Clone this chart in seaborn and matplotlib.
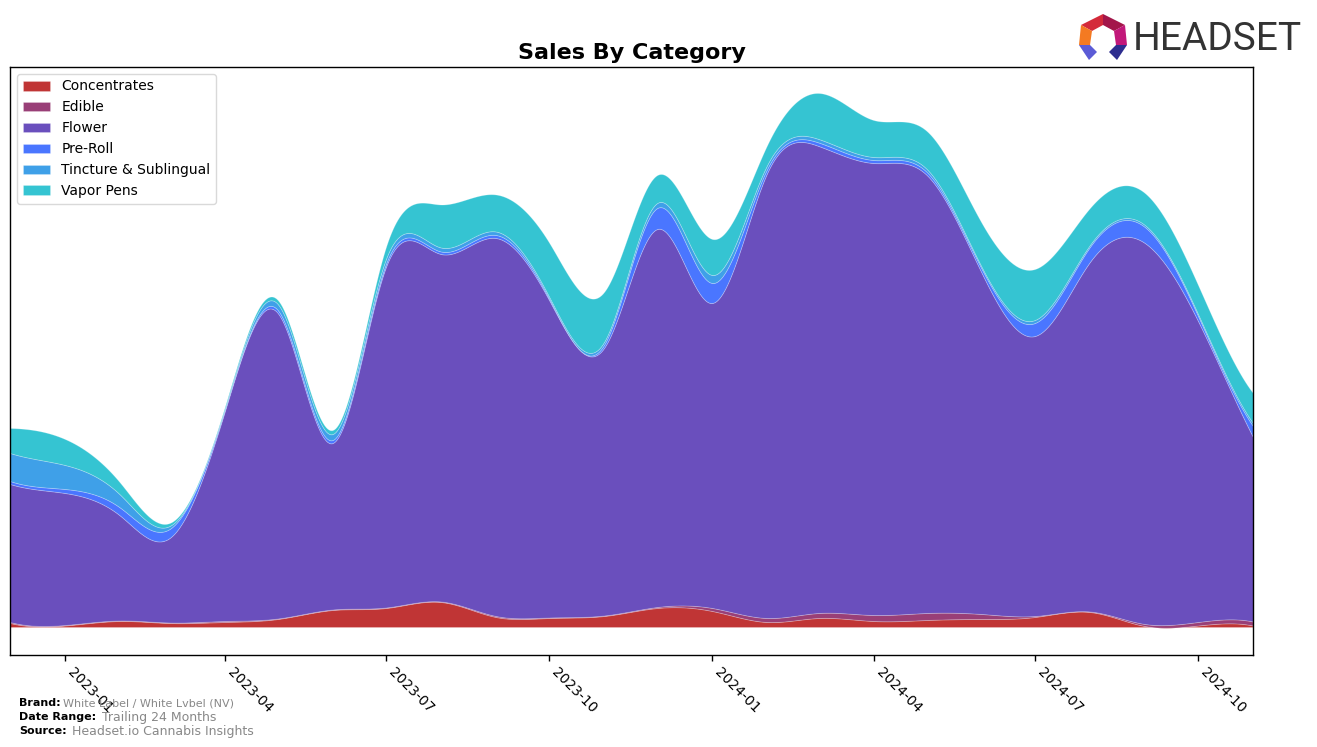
import numpy as np
import pandas as pd
import matplotlib
matplotlib.use("Agg")
import matplotlib.pyplot as plt
import matplotlib.dates as mdates
from matplotlib.patches import Polygon
import seaborn as sns

# ---------------- data (monthly sales, arbitrary units) ----------------
months = pd.date_range("2022-12-01", "2024-11-01", freq="MS")
categories = ["Concentrates", "Edible", "Flower", "Pre-Roll", "Tincture & Sublingual", "Vapor Pens"]

concentrates = [4, 1.5, 6, 4, 5, 8, 17, 19, 25, 10, 9, 11,
                19, 16, 5, 9, 6, 7, 8, 10, 15, 1, 1.5, 1.5]
edible = [1, 0.5, 0.5, 0.5, 1, 0.5, 0.5, 0.5, 0.5, 1, 0.5, 0.5,
          1, 3, 4, 5, 6, 7, 5, 1, 0.5, 2, 3.5, 4]
flower = [138, 132, 105, 84.5, 209, 305.5, 166.5, 340.5, 347.5, 378, 317.5, 267.5,
          378, 305, 445, 467, 452, 438, 341, 280, 349.5, 381, 301, 184.5]
pre_roll = [3, 4, 8, 9, 1.5, 3, 3, 3, 2.5, 3, 1.5, 3,
            21, 20, 4, 3.5, 3, 3, 4, 13, 15, 16, 5, 11]
tincture = [28, 24, 13, 3, 1.5, 6, 6, 5, 4, 3.5, 2, 3,
            5, 8, 4, 3.5, 3, 3, 2, 3, 2, 2, 2, 3]
vapor_pens = [25, 26, 12, 3, 1.5, 4, 4, 12, 43, 37, 54, 50,
              28, 36, 20, 46, 37, 38, 44, 51, 37, 32, 29, 30]

colors = ["#c03535", "#993f77", "#6a4fbd", "#4a76ff", "#3fa0e8", "#35c4d2"]

# ---------------- smoothing (cubic spline, not-a-knot) ----------------
def spline(x, y, xn):
    x = np.asarray(x, float)
    y = np.asarray(y, float)
    n = len(x)
    h = np.diff(x)
    A = np.zeros((n, n))
    b = np.zeros(n)
    for i in range(1, n - 1):
        A[i, i - 1] = h[i - 1]
        A[i, i] = 2 * (h[i - 1] + h[i])
        A[i, i + 1] = h[i]
        b[i] = 6 * ((y[i + 1] - y[i]) / h[i] - (y[i] - y[i - 1]) / h[i - 1])
    A[0, 0], A[0, 1], A[0, 2] = -h[1], h[0] + h[1], -h[0]
    A[-1, -3], A[-1, -2], A[-1, -1] = -h[-1], h[-1] + h[-2], -h[-2]
    M = np.linalg.solve(A, b)
    idx = np.clip(np.searchsorted(x, xn) - 1, 0, n - 2)
    x0, x1 = x[idx], x[idx + 1]
    hh = x1 - x0
    return (M[idx] * (x1 - xn) ** 3 / (6 * hh) + M[idx + 1] * (xn - x0) ** 3 / (6 * hh)
            + (y[idx] / hh - M[idx] * hh / 6) * (x1 - xn)
            + (y[idx + 1] / hh - M[idx + 1] * hh / 6) * (xn - x0))

xnum = mdates.date2num(months)
xd = np.linspace(xnum[0], xnum[-1], 800)
series = [concentrates, edible, flower, pre_roll, tincture, vapor_pens]
smooth = [spline(xnum, s, xd) for s in series]

# ---------------- plot ----------------
sns.set_style("ticks")
plt.rcParams["font.family"] = ["DejaVu Sans"]
plt.rcParams["text.color"] = "black"
plt.rcParams["xtick.color"] = "black"
plt.rcParams["axes.edgecolor"] = "black"
plt.rcParams["axes.titlecolor"] = "black"
palette = sns.color_palette(colors)

fig = plt.figure(figsize=(13.17, 7.47), dpi=100)
ax = fig.add_axes([10 / 1317, 1 - 655 / 747, 1243 / 1317, 588 / 747])

ax.stackplot(mdates.num2date(xd), *smooth, labels=categories, colors=palette,
             linewidth=0.6, edgecolor=(1, 1, 1, 0.25))

ax.set_xlim(mdates.num2date(xnum[0]), mdates.num2date(xnum[-1]))
ax.set_ylim(-28, 560)
ax.set_yticks([])
ax.xaxis.set_major_locator(mdates.MonthLocator(bymonth=[1, 4, 7, 10]))
ax.xaxis.set_major_formatter(mdates.DateFormatter("%Y-%m"))
for lab in ax.get_xticklabels():
    lab.set_rotation(-45)
    lab.set_ha("left")
    lab.set_fontsize(10)
ax.tick_params(axis="x", length=4, width=1, color="black", labelcolor="black")
for sp in ax.spines.values():
    sp.set_visible(True)
    sp.set_color("black")
    sp.set_linewidth(1)

ax.set_title("Sales By Category", fontsize=16, fontweight="bold", pad=6, color="black")

leg = ax.legend(loc="upper left", fontsize=10, frameon=True, borderaxespad=0.5)
leg.get_frame().set_edgecolor("#d0d0d0")
for t in leg.get_texts():
    t.set_color("black")

# footer
fig.text(19 / 1317, 1 - 703 / 747, "Brand:", fontsize=8, fontweight="bold", va="center")
fig.text(63 / 1317, 1 - 703 / 747, "White Label / White Lvbel (NV)", fontsize=8, color="#888888", va="center")
fig.text(19 / 1317, 1 - 717 / 747, "Date Range:", fontsize=8, fontweight="bold", va="center")
fig.text(102 / 1317, 1 - 717 / 747, "Trailing 24 Months", fontsize=9, color="#888888", va="center")
fig.text(19 / 1317, 1 - 731 / 747, "Source:", fontsize=8, fontweight="bold", va="center")
fig.text(72 / 1317, 1 - 731 / 747, "Headset.io Cannabis Insights", fontsize=9, color="#888888", va="center")

# logo
def P(pts):
    return [(px / 1317, 1 - py / 747) for px, py in pts]

logo = [
    ([(1081, 25), (1103, 14), (1103, 25), (1092, 31)], "#d42a3a"),
    ([(1103, 14), (1125, 25), (1114, 31), (1103, 25)], "#a3164a"),
    ([(1125, 25), (1127, 45), (1116, 45), (1114, 31)], "#c2187a"),
    ([(1081, 25), (1092, 31), (1090, 45), (1079, 45)], "#f47a22"),
    ([(1079, 45), (1090, 45), (1097, 52), (1089, 60)], "#5b5bd6"),
    ([(1127, 45), (1116, 45), (1109, 52), (1117, 60)], "#2d2d8f"),
]
for pts, c in logo:
    fig.patches.append(Polygon(P(pts), closed=True, facecolor=c, edgecolor="none",
                               transform=fig.transFigure, figure=fig))
fig.text(1133 / 1317, 1 - 39 / 747, "HEADSET", fontsize=28, color="#333333", va="center",
         family=["Roboto", "DejaVu Sans"])

fig.savefig("out.png", dpi=100)
